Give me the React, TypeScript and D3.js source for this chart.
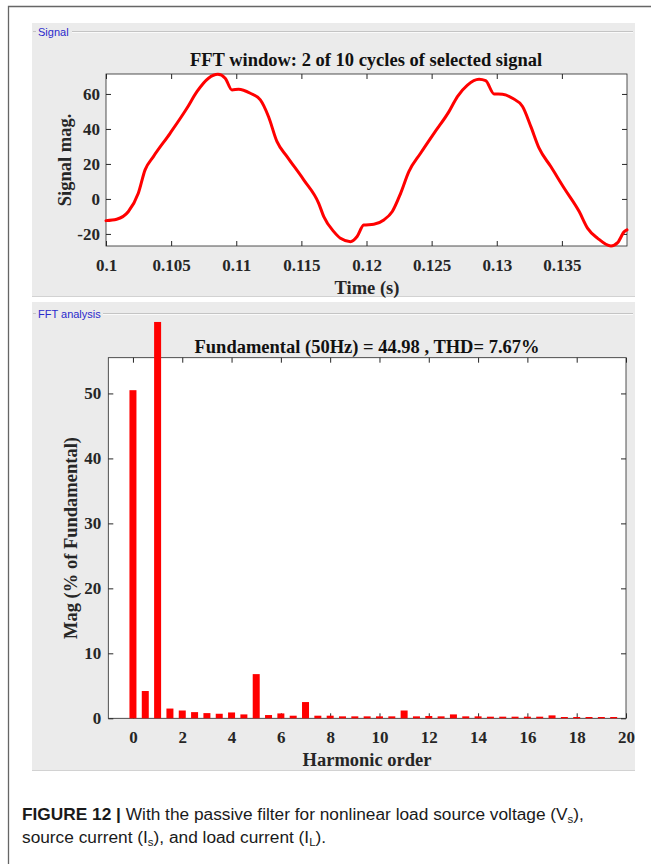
import { useEffect, useRef } from 'react'
import * as d3 from 'd3'

// signal window (2 cycles)
const timeS = [0.1, 0.10082, 0.10172, 0.10248, 0.103, 0.10364, 0.10492, 0.10621, 0.10698, 0.10787,
  0.10859, 0.10915, 0.10967, 0.11018, 0.11108, 0.11185, 0.11248, 0.11313, 0.1139, 0.11518,
  0.11633, 0.11672, 0.11749, 0.118, 0.11877, 0.11928, 0.11979, 0.12056, 0.12133, 0.12198,
  0.12262, 0.12325, 0.12415, 0.12518, 0.12633, 0.12698, 0.12775, 0.12864, 0.12915, 0.12979,
  0.13044, 0.13121, 0.13198, 0.13262, 0.13325, 0.13415, 0.13518, 0.13633, 0.13698, 0.13775,
  0.13877, 0.13928, 0.13979, 0.14]
const signalMag = [-12.4, -11.6, -7.2, 3.2, 16.6, 24.2, 37.5, 51.8, 61.3, 69,
  71.2, 69, 62.3, 62.7, 60.4, 56.6, 47, 32.7, 24.2, 10.9,
  -2.5, -10.1, -18.7, -22.5, -24.4, -21.5, -14.9, -14.5, -12, -7.2,
  3.2, 15.6, 26.1, 37.5, 49.9, 58.5, 65.1, 68.4, 67.6, 60,
  59.8, 57.5, 52.8, 41.3, 29, 18.5, 6.1, -7.2, -16.8, -22.5,
  -26.9, -25, -18.7, -17.7]
const timeTicks = [0.1, 0.105, 0.11, 0.115, 0.12, 0.125, 0.13, 0.135]
const signalTicks = [-20, 0, 20, 40, 60]

// FFT spectrum (the fundamental bar is clipped in the original)
const harmonicOrder = [0, 0.5, 1, 1.5, 2, 2.5, 3, 3.5, 4, 4.5, 5, 5.5, 6, 6.5, 7, 7.5, 8, 8.5, 9, 9.5,
  10, 10.5, 11, 11.5, 12, 12.5, 13, 13.5, 14, 14.5, 15, 15.5, 16, 16.5, 17, 17.5, 18, 18.5, 19, 19.5]
const magPct = [50.5, 4.2, 61, 1.5, 1.2, 0.95, 0.8, 0.7, 0.9, 0.6, 6.8, 0.5, 0.75, 0.4, 2.5, 0.4, 0.4, 0.3, 0.3, 0.3,
  0.3, 0.3, 1.2, 0.3, 0.35, 0.3, 0.6, 0.3, 0.3, 0.25, 0.25, 0.25, 0.25, 0.25, 0.45, 0.2, 0.2, 0.2, 0.2, 0.2]
const harmonicTicks = [0, 2, 4, 6, 8, 10, 12, 14, 16, 18, 20]
const magTicks = [0, 10, 20, 30, 40, 50]

const SERIF = '"Liberation Serif", "Times New Roman", serif'
const SANS = '"Liberation Sans", Arial, sans-serif'
const INK = '#262626'

const App = () => {
  const ref = useRef<SVGSVGElement>(null)

  const draw = () => {
    const svg = d3.select(ref.current)
    svg.selectAll('*').remove()

    // outer frame
    svg.append('path').attr('d', 'M8.5,864 V6.5 H651').attr('fill', 'none').attr('stroke', '#666').attr('stroke-width', 1.3)

    // panels
    const panel = (y0: number, y1: number, label: string, lineY: number, labelW: number) => {
      svg.append('rect').attr('x', 32).attr('y', y0).attr('width', 603).attr('height', y1 - y0)
        .attr('fill', '#ebebeb')
      svg.append('line').attr('x1', 32).attr('x2', 635).attr('y1', y1 - 0.5).attr('y2', y1 - 0.5)
        .attr('stroke', '#d2d2d2')
      svg.append('line').attr('x1', 33).attr('x2', 36).attr('y1', lineY).attr('y2', lineY).attr('stroke', '#c4c4c4')
      svg.append('line').attr('x1', 38 + labelW + 3).attr('x2', 633).attr('y1', lineY).attr('y2', lineY).attr('stroke', '#c4c4c4')
      svg.append('line').attr('x1', 38 + labelW + 3).attr('x2', 633).attr('y1', lineY + 1).attr('y2', lineY + 1).attr('stroke', '#fafafa')
      svg.append('text').attr('x', 38).attr('y', lineY + 4).attr('font-family', SANS).attr('font-size', 11)
        .attr('fill', '#2a2acc').text(label)
    }
    panel(23, 297, 'Signal', 31.5, 31)
    panel(302, 771, 'FFT analysis', 313.5, 62)

    const styleAxis = (g: any) => {
      g.select('.domain').remove()
      g.selectAll('line').attr('stroke', INK)
      g.selectAll('text').attr('font-family', SERIF).attr('font-weight', 'bold')
        .attr('font-size', 17).attr('fill', INK)
    }
    const label = (x: number, y: number, txt: string, rot = false, fill = INK) =>
      svg.append('text')
        .attr('transform', rot ? `translate(${x},${y}) rotate(-90)` : `translate(${x},${y})`)
        .attr('text-anchor', 'middle').attr('xml:space', 'preserve')
        .attr('font-family', SERIF).attr('font-weight', 'bold').attr('font-size', 18.5).attr('fill', fill)
        .text(txt)

    // ---- top: signal ----
    const xT = d3.scaleLinear().domain([0.1, 0.14]).range([106, 627])
    const yT = d3.scaleLinear().domain([-26.9, 71.4]).range([246, 74])

    svg.append('rect').attr('x', 106).attr('y', 74).attr('width', 521).attr('height', 172)
      .attr('fill', '#fff').attr('stroke', INK).attr('stroke-width', 0.8)

    svg.append('g').attr('transform', 'translate(0,246)')
      .call(d3.axisBottom(xT).tickValues(timeTicks).tickFormat((d: any) => String(d))
        .tickSizeInner(-5).tickSizeOuter(0).tickPadding(13)).call(styleAxis)
    svg.append('g').attr('transform', 'translate(0,74)')
      .call(d3.axisTop(xT).tickValues(timeTicks).tickFormat(() => '').tickSizeInner(-5).tickSizeOuter(0)).call(styleAxis)
    svg.append('g').attr('transform', 'translate(106,0)')
      .call(d3.axisLeft(yT).tickValues(signalTicks).tickFormat((d: any) => String(d))
        .tickSizeInner(-5).tickSizeOuter(0).tickPadding(6)).call(styleAxis)
    svg.append('g').attr('transform', 'translate(627,0)')
      .call(d3.axisRight(yT).tickValues(signalTicks).tickFormat(() => '').tickSizeInner(-5).tickSizeOuter(0)).call(styleAxis)

    const line = d3.line<number>()
      .x((_, i) => xT(timeS[i]))
      .y(d => yT(d))
      .curve(d3.curveMonotoneX)
    svg.append('path').datum(signalMag).attr('d', line)
      .attr('fill', 'none').attr('stroke', '#ff0000').attr('stroke-width', 3)
      .attr('stroke-linejoin', 'round').attr('stroke-linecap', 'round')

    label(366, 66, 'FFT window: 2 of 10 cycles of selected signal', false, '#111')
    label(367, 294, 'Time (s)')
    label(71, 160, 'Signal mag.', true)

    // ---- bottom: FFT ----
    const xB = d3.scaleLinear().domain([-1, 20]).range([108.3, 626])
    const yB = d3.scaleLinear().domain([0, 55.5]).range([718.3, 357.7])

    svg.append('rect').attr('x', 108.3).attr('y', 357.7).attr('width', 517.7).attr('height', 360.6)
      .attr('fill', '#fff').attr('stroke', INK).attr('stroke-width', 0.8)

    svg.append('g').attr('transform', 'translate(0,718.3)')
      .call(d3.axisBottom(xB).tickValues(harmonicTicks).tickFormat((d: any) => String(d))
        .tickSizeInner(-5).tickSizeOuter(0).tickPadding(13)).call(styleAxis)
    svg.append('g').attr('transform', 'translate(0,357.7)')
      .call(d3.axisTop(xB).tickValues(harmonicTicks).tickFormat(() => '').tickSizeInner(-5).tickSizeOuter(0)).call(styleAxis)
    svg.append('g').attr('transform', 'translate(108.3,0)')
      .call(d3.axisLeft(yB).tickValues(magTicks).tickSizeInner(-5).tickSizeOuter(0).tickPadding(7)).call(styleAxis)
    svg.append('g').attr('transform', 'translate(626,0)')
      .call(d3.axisRight(yB).tickValues(magTicks).tickFormat(() => '').tickSizeInner(-5).tickSizeOuter(0)).call(styleAxis)

    const bw = 7
    svg.append('g').selectAll('rect').data(magPct).enter().append('rect')
      .attr('x', (_, i) => xB(harmonicOrder[i]) - bw / 2)
      .attr('y', d => yB(d))
      .attr('width', bw)
      .attr('height', d => yB(0) - yB(d))
      .attr('fill', '#ff0000')

    label(367, 353, 'Fundamental (50Hz) = 44.98 , THD= 7.67%', false, '#111')
    label(367, 766, 'Harmonic order')
    label(77, 538, 'Mag (% of Fundamental)', true)

    // ---- caption ----
    const cap1 = svg.append('text').attr('x', 22).attr('y', 820).attr('font-family', SANS)
      .attr('font-size', 17.3).attr('fill', '#1a1a1a')
    cap1.append('tspan').attr('font-weight', 'bold').text('FIGURE 12 | ')
    cap1.append('tspan').text('With the passive filter for nonlinear load source voltage (V')
    cap1.append('tspan').attr('font-size', 11.5).attr('dy', 3).text('s')
    cap1.append('tspan').attr('dy', -3).text('),')
    const cap2 = svg.append('text').attr('x', 22).attr('y', 843).attr('font-family', SANS)
      .attr('font-size', 17.3).attr('fill', '#1a1a1a')
    cap2.append('tspan').text('source current (I')
    cap2.append('tspan').attr('font-size', 11.5).attr('dy', 3).text('s')
    cap2.append('tspan').attr('dy', -3).text('), and load current (I')
    cap2.append('tspan').attr('font-size', 11.5).attr('dy', 3).text('L')
    cap2.append('tspan').attr('dy', -3).text(').')
  }

  useEffect(() => {
    draw()
  }, [])

  return (
    <div style={{ position: 'absolute', left: 0, top: 0 }}>
      <svg ref={ref} width={651} height={864} style={{ display: 'block', background: '#fff' }} />
    </div>
  )
}

export default App
